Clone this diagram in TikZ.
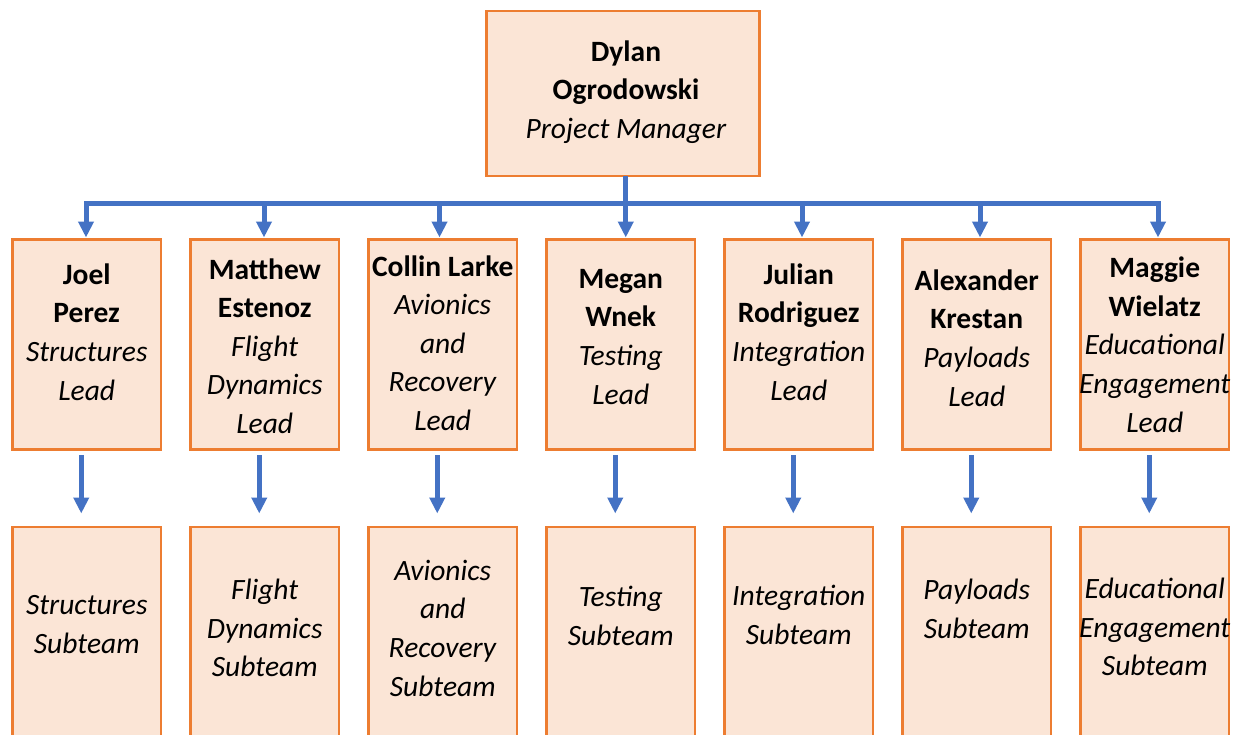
\documentclass[tikz,border=0pt]{standalone}
\usepackage{fontspec}
\setmainfont{Carlito}
\usetikzlibrary{arrows.meta}
\definecolor{boxfill}{HTML}{FBE5D6}
\definecolor{boxline}{HTML}{ED7D31}
\definecolor{arrowblue}{HTML}{4472C4}
\begin{document}
\begin{tikzpicture}[x=1pt,y=-1pt,
  box/.style={draw=boxline,fill=boxfill,line width=2.5pt,inner sep=0pt,outer sep=0pt},
  topbox/.style={box,minimum width=273pt,minimum height=165pt},
  leadbox/.style={box,minimum width=148.5pt,minimum height=210pt},
  teambox/.style={box,minimum width=148.5pt,minimum height=233pt},
  txt/.style={align=center,inner sep=0pt,anchor=base,yshift=-1.5pt,font=\fontsize{29.5}{38.6}\selectfont},
  conn/.style={draw=arrowblue,line width=5pt},
  tip/.style={-{Triangle[width=15pt,length=16pt]}},
  tips/.style={{Triangle[width=15pt,length=16pt]}-{Triangle[width=15pt,length=16pt]}}]
\useasboundingbox (0,0) rectangle (1244,734);
% boxes
\node[topbox] (top) at (623,93.5) {};
\foreach \i in {1,...,7}{
  \node[leadbox] (b\i) at ({86.75+178*(\i-1)},344.5) {};
  \node[teambox] (c\i) at ({86.75+178*(\i-1)},643.5) {};
}
% texts (anchored at the baseline of the last line)
\node[txt] (t0) at (626,136.7) {\textbf{Dylan}\\\textbf{Ogrodowski}\\\textit{Project Manager}};
\node[txt] (t1) at (86.75,398.5) {\textbf{Joel}\\\textbf{Perez}\\\textit{Structures}\\\textit{Lead}};
\node[txt] (t2) at (264.75,431.9) {\textbf{Matthew}\\\textbf{Estenoz}\\\textit{Flight}\\\textit{Dynamics}\\\textit{Lead}};
\node[txt] (t3) at (442.75,428.9) {\textbf{Collin Larke}\\\textit{Avionics}\\\textit{and}\\\textit{Recovery}\\\textit{Lead}};
\node[txt] (t4) at (620.75,402.5) {\textbf{Megan}\\\textbf{Wnek}\\\textit{Testing}\\\textit{Lead}};
\node[txt] (t5) at (798.75,398.5) {\textbf{Julian}\\\textbf{Rodriguez}\\\textit{Integration}\\\textit{Lead}};
\node[txt] (t6) at (976.75,404.5) {\textbf{Alexander}\\\textbf{Krestan}\\\textit{Payloads}\\\textit{Lead}};
\node[txt] (t7) at (1154.75,430.6) {\textbf{Maggie}\\\textbf{Wielatz}\\\textit{Educational}\\\textit{Engagement}\\\textit{Lead}};
\node[txt] (s1) at (86.75,651.7) {\textit{Structures}\\\textit{Subteam}};
\node[txt] (s2) at (264.75,675.1) {\textit{Flight}\\\textit{Dynamics}\\\textit{Subteam}};
\node[txt] (s3) at (442.75,694.5) {\textit{Avionics}\\\textit{and}\\\textit{Recovery}\\\textit{Subteam}};
\node[txt] (s4) at (620.75,643.7) {\textit{Testing}\\\textit{Subteam}};
\node[txt] (s5) at (798.75,642.7) {\textit{Integration}\\\textit{Subteam}};
\node[txt] (s6) at (976.75,636.7) {\textit{Payloads}\\\textit{Subteam}};
\node[txt] (s7) at (1154.75,674.1) {\textit{Educational}\\\textit{Engagement}\\\textit{Subteam}};
% connectors top -> leads
\coordinate (bus) at (626,203);
\coordinate (a1) at ([xshift=-0.75pt]b1.north);
\coordinate (a2) at ([xshift=-0.75pt]b2.north);
\coordinate (a3) at ([xshift=-3.25pt]b3.north);
\coordinate (a4) at ([xshift=5pt]b4.north);
\coordinate (a5) at ([xshift=3.25pt]b5.north);
\coordinate (a6) at ([xshift=3.25pt]b6.north);
\coordinate (a7) at ([xshift=3.25pt]b7.north);
\draw[conn,tips,shorten <=2pt,shorten >=2pt] (a1) |- (bus) -| (a7);
\foreach \j in {2,3,5,6}{
  \draw[conn,tip,shorten >=2pt] (a\j |- bus) -- (a\j);
}
\draw[conn,tip,shorten >=2pt] ([xshift=2.75pt]top.south) -- (a4);
% connectors leads -> subteams
\foreach \j in {1,...,7}{
  \draw[conn,tip,shorten <=5.5pt,shorten >=13.5pt] ([xshift=-5.5pt]b\j.south) -- ([xshift=-5.5pt]c\j.north);
}
\end{tikzpicture}
\end{document}
